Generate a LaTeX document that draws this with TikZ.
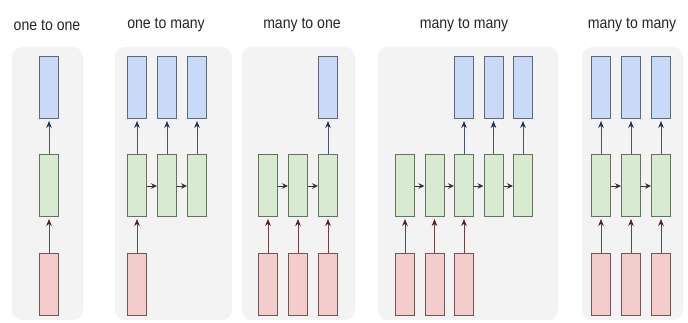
\documentclass[tikz,border=0pt]{standalone}
\usepackage{fontspec}
\setmainfont{Liberation Sans}
\usetikzlibrary{arrows.meta}
\definecolor{panelbg}{HTML}{F3F3F3}
\definecolor{bluefill}{HTML}{C9DAF8}
\definecolor{blueline}{HTML}{5F6779}
\definecolor{greenfill}{HTML}{D9EAD3}
\definecolor{greenline}{HTML}{66725F}
\definecolor{redfill}{HTML}{F4CCCC}
\definecolor{redline}{HTML}{705858}
\definecolor{bluearrow}{HTML}{22315E}
\definecolor{redarrow}{HTML}{5E1A22}
\definecolor{grayarrow}{HTML}{333333}
\begin{document}
\begin{tikzpicture}[x=1pt,y=-1pt,
  panel/.style={fill=panelbg,draw=none,rounded corners=10pt},
  cellbase/.style={draw,line width=1pt,minimum width=19pt,minimum height=62pt,inner sep=0pt},
  outbox/.style={cellbase,fill=bluefill,draw=blueline},
  hidbox/.style={cellbase,fill=greenfill,draw=greenline},
  inbox/.style={cellbase,fill=redfill,draw=redline},
  upblue/.style={-{Stealth[length=7pt,width=5.5pt,color=bluearrow]},line width=0.7pt,draw=bluearrow!55!gray,shorten >=1.5pt},
  upred/.style={-{Stealth[length=7pt,width=5.5pt,color=redarrow]},line width=0.7pt,draw=redarrow!60!gray,shorten >=1.5pt},
  rightarr/.style={-{Stealth[length=6pt,width=5.5pt]},line width=0.9pt,draw=grayarrow},
  title/.style={font=\fontsize{16}{18}\selectfont,text=black!85,inner sep=0pt,xscale=0.88}
]
\useasboundingbox (0,0) rectangle (688,323);
\fill[white] (0,0) rectangle (688,323);
% panels
\fill[panel] (12,47) rectangle (83,320);
\fill[panel] (115,47) rectangle (232,320);
\fill[panel] (242,47) rectangle (355,320);
\fill[panel] (378,47) rectangle (558,320);
\fill[panel] (582,47) rectangle (683,320);
% titles
\node[title] (t1) at (47,25) {one to one};
\node[title] (t2) at (166,25) {one to many};
\node[title] (t3) at (302,25) {many to one};
\node[title] (t4) at (464,25) {many to many};
\node[title] (t5) at (632,25) {many to many};
% rows: blue center y=88, green 186, red 284
% panel 1
\node[outbox] (a1o) at (49,88) {};
\node[hidbox] (a1h) at (49,186) {};
\node[inbox] (a1i) at (49,284) {};
\draw[upred] (a1i) -- (a1h);
\draw[upblue] (a1h) -- (a1o);
% panel 2
\foreach \n/\x in {1/137,2/167,3/197}{
  \node[outbox] (b\n o) at (\x,88) {};
  \node[hidbox] (b\n h) at (\x,186) {};
  \draw[upblue] (b\n h) -- (b\n o);
}
\node[inbox] (b1i) at (137,284) {};
\draw[upred] (b1i) -- (b1h);
\draw[rightarr] (b1h) -- (b2h);
\draw[rightarr] (b2h) -- (b3h);
% panel 3
\foreach \n/\x in {1/268,2/298,3/328}{
  \node[hidbox] (c\n h) at (\x,186) {};
  \node[inbox] (c\n i) at (\x,284) {};
  \draw[upred] (c\n i) -- (c\n h);
}
\node[outbox] (c3o) at (328,88) {};
\draw[upblue] (c3h) -- (c3o);
\draw[rightarr] (c1h) -- (c2h);
\draw[rightarr] (c2h) -- (c3h);
% panel 4
\foreach \n/\x in {1/405,2/434.5,3/464,4/493.5,5/523}{
  \node[hidbox] (d\n h) at (\x,186) {};
}
\foreach \n in {1,2,3}{
  \node[inbox] (d\n i) at (d\n h |- 0,284) {};
  \draw[upred] (d\n i) -- (d\n h);
}
\foreach \n in {3,4,5}{
  \node[outbox] (d\n o) at (d\n h |- 0,88) {};
  \draw[upblue] (d\n h) -- (d\n o);
}
\draw[rightarr] (d1h) -- (d2h);
\draw[rightarr] (d2h) -- (d3h);
\draw[rightarr] (d3h) -- (d4h);
\draw[rightarr] (d4h) -- (d5h);
% panel 5
\foreach \n/\x in {1/601,2/631,3/661}{
  \node[outbox] (e\n o) at (\x,88) {};
  \node[hidbox] (e\n h) at (\x,186) {};
  \node[inbox] (e\n i) at (\x,284) {};
  \draw[upred] (e\n i) -- (e\n h);
  \draw[upblue] (e\n h) -- (e\n o);
}
\draw[rightarr] (e1h) -- (e2h);
\draw[rightarr] (e2h) -- (e3h);
\end{tikzpicture}
\end{document}
